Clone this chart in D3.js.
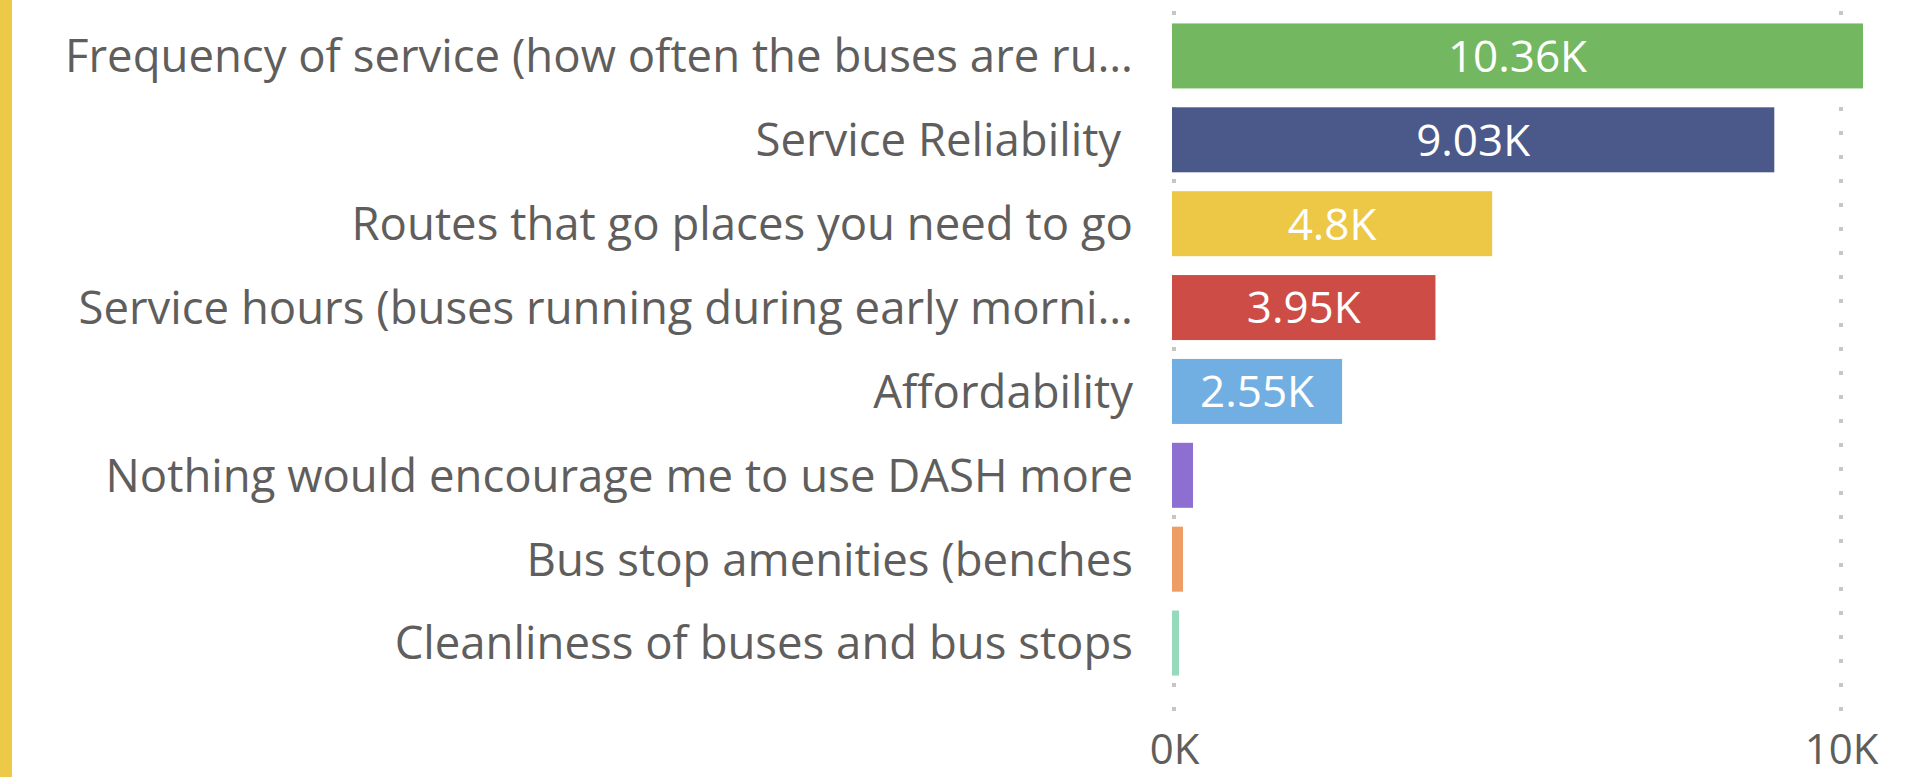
<!DOCTYPE html>
<html>
<head>
<meta charset="utf-8">
<script src="https://cdn.jsdelivr.net/npm/d3@7"></script>
<style>
  html, body { margin: 0; padding: 0; background: #ffffff; }
  svg { display: block; }
  text { font-family: "Open Sans", "Noto Sans", sans-serif; }
</style>
</head>
<body>
<svg id="chart" width="1920" height="777"></svg>
<script>
// Survey: what would encourage riders to use DASH more (response counts)
const categories = [
  "Frequency of service (how often the buses are ru…",
  "Service Reliability ",
  "Routes that go places you need to go",
  "Service hours (buses running during early morni…",
  "Affordability",
  "Nothing would encourage me to use DASH more",
  "Bus stop amenities (benches",
  "Cleanliness of buses and bus stops"
];
const values = [10360, 9030, 4800, 3950, 2550, 315, 165, 105];
const colors = ["#73B761", "#4A588A", "#ECC846", "#CD4C46", "#71AFE2", "#8D6FD1", "#EE9E64", "#95DABB"];
const tickValues = [0, 10000];

const W = 1920, H = 777;
const svg = d3.select("#chart");

// accent strip on the left edge
svg.append("rect")
  .attr("x", 0).attr("y", 0)
  .attr("width", 12).attr("height", H)
  .attr("fill", "#EDC948");

const x = d3.scaleLinear().domain([0, 10000]).range([1172, 1839]);
const y = d3.scaleBand()
  .domain(categories)
  .range([14, 685])
  .paddingInner(0.225)
  .paddingOuter(0.1125);

const labelSize = 45.5;
const valueSize = 44;
const axisSize = 42;
const textColor = "#605E5C";

// dotted vertical gridlines
svg.append("g")
  .selectAll("line")
  .data(tickValues)
  .join("line")
  .attr("x1", d => x(d) + 2).attr("x2", d => x(d) + 2)
  .attr("y1", 11).attr("y2", 713)
  .attr("stroke", "#C8C6C4")
  .attr("stroke-width", 4)
  .attr("stroke-dasharray", "4 20");

// bars
const rows = categories.map((c, i) => ({ c, v: values[i], color: colors[i] }));
svg.append("g")
  .selectAll("rect")
  .data(rows)
  .join("rect")
  .attr("x", x(0))
  .attr("y", d => y(d.c))
  .attr("width", d => x(d.v) - x(0))
  .attr("height", y.bandwidth())
  .attr("fill", d => d.color);

// category labels
svg.append("g")
  .selectAll("text")
  .data(rows)
  .join("text")
  .attr("x", 1133)
  .attr("y", d => y(d.c) + y.bandwidth() / 2)
  .attr("dy", "0.36em")
  .attr("text-anchor", "end")
  .attr("font-size", labelSize)
  .attr("fill", textColor)
  .style("white-space", "pre")
  .text(d => d.c);

// value labels inside bars, shown only where they fit
const fmt = v => d3.format(".2~f")(v / 1000) + "K";
const valueLabels = svg.append("g")
  .selectAll("text")
  .data(rows)
  .join("text")
  .attr("x", d => (x(0) + x(d.v)) / 2)
  .attr("y", d => y(d.c) + y.bandwidth() / 2)
  .attr("dy", "0.36em")
  .attr("text-anchor", "middle")
  .attr("font-size", valueSize)
  .attr("fill", "#ffffff")
  .text(d => fmt(d.v));
valueLabels.each(function(d) {
  const w = this.getComputedTextLength();
  if (w + 8 > x(d.v) - x(0)) d3.select(this).remove();
});

// x axis
const axis = d3.axisBottom(x)
  .tickValues(tickValues)
  .tickFormat(d => d / 1000 + "K")
  .tickSize(0);
const gAxis = svg.append("g")
  .attr("transform", "translate(2,0)")
  .call(axis);
gAxis.select(".domain").remove();
gAxis.selectAll("text")
  .attr("y", 764)
  .attr("dy", 0)
  .attr("font-size", axisSize)
  .attr("font-family", "\"Open Sans\", \"Noto Sans\", sans-serif")
  .attr("fill", textColor);
</script>
</body>
</html>
